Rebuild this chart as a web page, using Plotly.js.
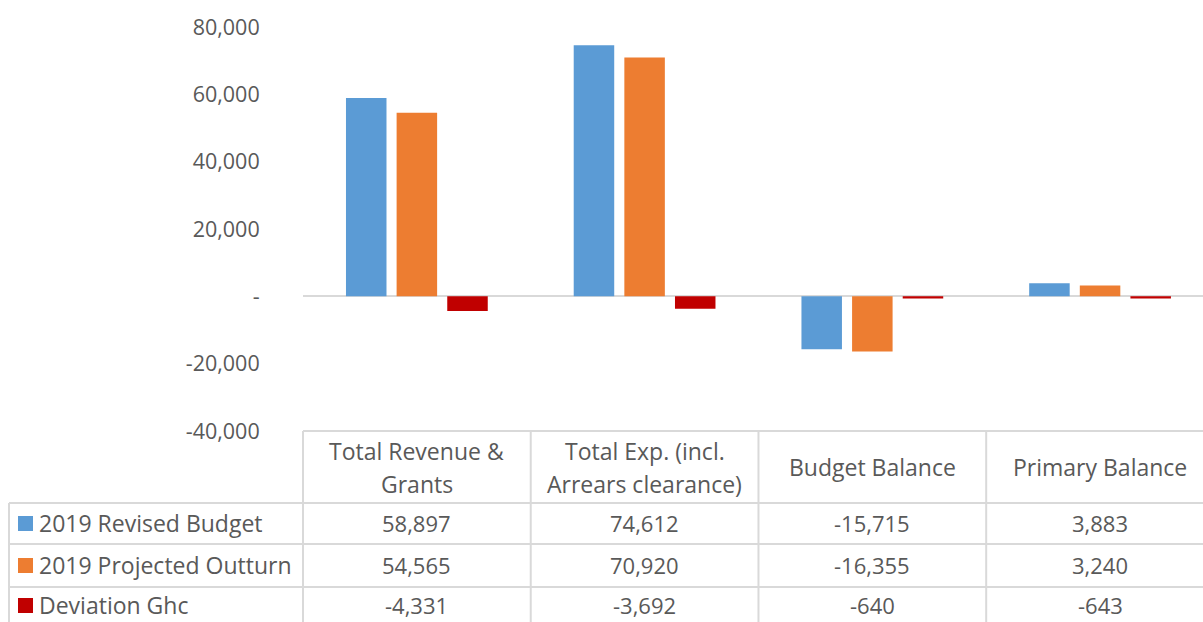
<!DOCTYPE html>
<html>
<head>
<meta charset="utf-8">
<script src="https://cdn.plot.ly/plotly-3.0.1.min.js"></script>
<style>html,body{margin:0;padding:0;background:#fff;}#chart{width:1203px;height:622px;}</style>
</head>
<body>
<div id="chart"></div>
<script>
// ---- data ----
var categories = ["Total Revenue & Grants", "Total Exp. (incl. Arrears clearance)", "Budget Balance", "Primary Balance"];
var headerLines = [["Total Revenue &", "Grants"], ["Total Exp. (incl.", "Arrears clearance)"], ["Budget Balance"], ["Primary Balance"]];
var seriesNames = ["2019 Revised Budget", "2019 Projected Outturn", "Deviation Ghc"];
var revisedBudget = [58897, 74612, -15715, 3883];
var projectedOutturn = [54565, 70920, -16355, 3240];
var deviation = [-4331, -3692, -640, -643];
var seriesColors = ["#5B9BD5", "#ED7D31", "#C00000"];
var yTickVals = [-40000, -20000, 0, 20000, 40000, 60000, 80000];
var yTickText = ["-40,000", "-20,000", "-", "20,000", "40,000", "60,000", "80,000"];

// ---- layout geometry ----
var W = 1203, H = 622;
var L = 303, R = 0, T = 27, B = 191;
var plotH = H - T - B, plotW = W - L - R;
function py(p) { return (H - B - p) / plotH; }   // pixel y -> paper y
function px(p) { return (p - L) / plotW; }       // pixel x -> paper x

var seriesValues = [revisedBudget, projectedOutturn, deviation];
var textColor = "#595959";
var gridColor = "#D9D9D9";
var fontFam = "Open Sans, Noto Sans, sans-serif";

var traces = seriesValues.map(function (vals, i) {
  return {
    type: "bar",
    name: seriesNames[i],
    x: categories,
    y: vals,
    marker: { color: seriesColors[i] },
    hoverinfo: "x+y+name"
  };
});

// table geometry (pixels)
var tableTop = 431, rowLines = [503, 544, 587], tableBottom = 640;
var leftX = 9;
var headerCenter = 467;
var rowCenters = [523, 565, 605];

var shapes = [];
var lineStyle = { color: gridColor, width: 2 };
shapes.push({ type: "line", xref: "paper", yref: "paper", x0: 0, x1: 1, y0: py(tableTop), y1: py(tableTop), line: lineStyle });
rowLines.forEach(function (r) {
  shapes.push({ type: "line", xref: "paper", yref: "paper", x0: px(leftX), x1: 1, y0: py(r), y1: py(r), line: lineStyle });
});
shapes.push({ type: "line", xref: "paper", yref: "paper", x0: px(leftX), x1: px(leftX), y0: py(rowLines[0]), y1: py(tableBottom), line: lineStyle });
shapes.push({ type: "line", xref: "paper", yref: "paper", x0: 0, x1: 0, y0: py(tableTop), y1: py(tableBottom), line: lineStyle });
for (var c = 0; c < categories.length - 1; c++) {
  shapes.push({ type: "line", xref: "x", yref: "paper", x0: c + 0.5, x1: c + 0.5, y0: py(tableTop), y1: py(tableBottom), line: lineStyle });
}
seriesNames.forEach(function (n, i) {
  var cy = rowCenters[i];
  shapes.push({ type: "rect", xref: "paper", yref: "paper", x0: px(18), x1: px(33), y0: py(cy - 7), y1: py(cy + 8), fillcolor: seriesColors[i], line: { width: 0 } });
});

var annotations = [];
var fText = { family: fontFam, size: 23, color: textColor };
var fNum = { family: fontFam, size: 22, color: textColor };
headerLines.forEach(function (lines, i) {
  var n = lines.length;
  lines.forEach(function (t, j) {
    var yc = headerCenter + (j - (n - 1) / 2) * 33;
    annotations.push({ xref: "x", yref: "paper", x: i, y: py(yc), text: t, showarrow: false, font: fText, xanchor: "center", yanchor: "middle" });
  });
});
seriesNames.forEach(function (n, i) {
  annotations.push({ xref: "paper", yref: "paper", x: px(37), y: py(rowCenters[i]), text: n, showarrow: false, font: fText, xanchor: "left", yanchor: "middle" });
  seriesValues[i].forEach(function (v, k) {
    annotations.push({ xref: "x", yref: "paper", x: k, y: py(rowCenters[i]), text: v.toLocaleString("en-US"), showarrow: false, font: fNum, xanchor: "center", yanchor: "middle" });
  });
});

var layout = {
  width: W, height: H,
  margin: { l: L, r: R, t: T, b: B, pad: 0 },
  paper_bgcolor: "#fff", plot_bgcolor: "#fff",
  showlegend: false,
  barmode: "group",
  bargap: 0.333,
  bargroupgap: 0.2,
  font: { family: fontFam, color: textColor },
  xaxis: {
    type: "category", range: [-0.5, 3.452],
    showticklabels: false, ticks: "", showgrid: false, zeroline: false, showline: false,
    fixedrange: true
  },
  yaxis: {
    range: [-40000, 80000],
    tickvals: yTickVals, ticktext: yTickText,
    ticks: "outside", ticklen: 38, tickcolor: "rgba(0,0,0,0)",
    tickfont: { family: fontFam, size: 21.5, color: textColor },
    showgrid: false, showline: false,
    zeroline: true, zerolinecolor: gridColor, zerolinewidth: 2,
    fixedrange: true
  },
  shapes: shapes,
  annotations: annotations
};

Plotly.newPlot("chart", traces, layout, { displayModeBar: false, staticPlot: true });
</script>
</body>
</html>
